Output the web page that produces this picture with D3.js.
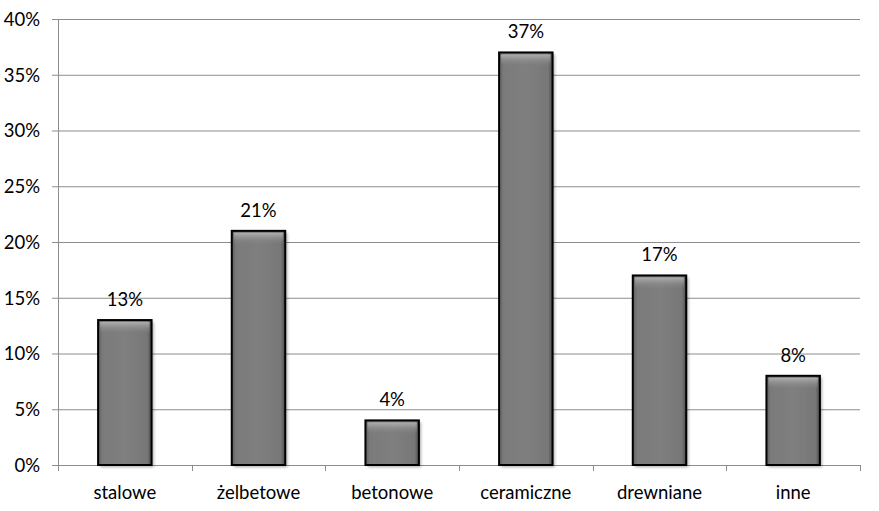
<!DOCTYPE html>
<html>
<head>
<meta charset="utf-8">
<script src="https://cdn.jsdelivr.net/npm/d3@7"></script>
<style>
  body { margin: 0; background: #fff; }
  text { font-family: Lato, "Open Sans", sans-serif; fill: #000; }
</style>
</head>
<body>
<svg id="chart" width="879" height="511"></svg>
<script>
const categories = ["stalowe", "żelbetowe", "betonowe", "ceramiczne", "drewniane", "inne"];
const values = [13, 21, 4, 37, 17, 8];
const yTicks = [0, 5, 10, 15, 20, 25, 30, 35, 40];

const margin = {top: 19, right: 19, bottom: 46, left: 58};
const width = 879 - margin.left - margin.right;
const height = 511 - margin.top - margin.bottom;

const svg = d3.select("#chart");
const defs = svg.append("defs");

// bevel-like fill: darker edges, lighter middle
const grad = defs.append("linearGradient").attr("id", "barGrad")
    .attr("x1", "0%").attr("x2", "100%").attr("y1", "0%").attr("y2", "0%");
grad.append("stop").attr("offset", "0%").attr("stop-color", "#5e5e5e");
grad.append("stop").attr("offset", "8%").attr("stop-color", "#7a7a7a");
grad.append("stop").attr("offset", "50%").attr("stop-color", "#7f7f7f");
grad.append("stop").attr("offset", "92%").attr("stop-color", "#777");
grad.append("stop").attr("offset", "100%").attr("stop-color", "#4a4a4a");

const topGrad = defs.append("linearGradient").attr("id", "topGrad")
    .attr("x1", "0%").attr("x2", "0%").attr("y1", "0%").attr("y2", "100%");
topGrad.append("stop").attr("offset", "0%").attr("stop-color", "#b5b5b5").attr("stop-opacity", 0.9);
topGrad.append("stop").attr("offset", "100%").attr("stop-color", "#808080").attr("stop-opacity", 0);

const shadow = defs.append("filter").attr("id", "shadow")
    .attr("x", "-20%").attr("y", "-10%").attr("width", "150%").attr("height", "130%");
shadow.append("feDropShadow").attr("dx", 2).attr("dy", 2).attr("stdDeviation", 1.5)
    .attr("flood-color", "#000").attr("flood-opacity", 0.35);

const g = svg.append("g").attr("transform", `translate(${margin.left},${margin.top})`);

const x = d3.scaleBand().domain(categories).range([0, width]).paddingInner(0.6).paddingOuter(0.3);
const y = d3.scaleLinear().domain([0, 40]).range([height, 0]);

// gridlines
g.append("g").selectAll("line")
    .data(yTicks)
    .join("line")
    .attr("x1", 0).attr("x2", width)
    .attr("y1", d => y(d) + 0.5).attr("y2", d => y(d) + 0.5)
    .attr("stroke", "#8c8c8c").attr("stroke-width", 1);

// y axis
const yAxis = g.append("g")
    .call(d3.axisLeft(y).tickValues(yTicks).tickFormat(d => d + "%").tickSizeInner(6).tickSizeOuter(0));
yAxis.select(".domain").attr("stroke", "#8c8c8c");
yAxis.selectAll(".tick line").attr("stroke", "#8c8c8c");
yAxis.selectAll(".tick text").attr("x", -18).attr("dy", "0.35em").style("font-size", "18.5px");

// x axis with ticks at category boundaries
const step = width / categories.length;
const xAxis = g.append("g").attr("transform", `translate(0,${height})`);
xAxis.append("line").attr("x1", 0).attr("x2", width).attr("y1", 0.5).attr("y2", 0.5).attr("stroke", "#8c8c8c");
xAxis.selectAll(".bound")
    .data(d3.range(categories.length + 1))
    .join("line")
    .attr("x1", i => Math.round(i * step) + 0.5).attr("x2", i => Math.round(i * step) + 0.5)
    .attr("y1", 0).attr("y2", 6)
    .attr("stroke", "#8c8c8c");
xAxis.selectAll(".lbl")
    .data(categories)
    .join("text")
    .attr("x", d => x(d) + x.bandwidth() / 2)
    .attr("y", 34)
    .attr("text-anchor", "middle")
    .style("font-size", "18.5px")
    .text(d => d);

// bars
const bars = g.append("g").selectAll("g")
    .data(categories.map((c, i) => ({c, v: values[i]})))
    .join("g");

bars.append("rect")
    .attr("x", d => x(d.c))
    .attr("y", d => y(d.v))
    .attr("width", x.bandwidth())
    .attr("height", d => height - y(d.v))
    .attr("fill", "url(#barGrad)")
    .attr("filter", "url(#shadow)");

bars.append("rect")
    .attr("x", d => x(d.c) + 2)
    .attr("y", d => y(d.v) + 2)
    .attr("width", x.bandwidth() - 4)
    .attr("height", 12)
    .attr("fill", "url(#topGrad)");

bars.append("rect")
    .attr("x", d => x(d.c))
    .attr("y", d => y(d.v))
    .attr("width", x.bandwidth())
    .attr("height", d => height - y(d.v))
    .attr("fill", "none")
    .attr("stroke", "#000")
    .attr("stroke-width", 2);

bars.append("text")
    .attr("x", d => x(d.c) + x.bandwidth() / 2)
    .attr("y", d => y(d.v) - 14)
    .attr("text-anchor", "middle")
    .style("font-size", "18.5px")
    .text(d => d.v + "%");
</script>
</body>
</html>
